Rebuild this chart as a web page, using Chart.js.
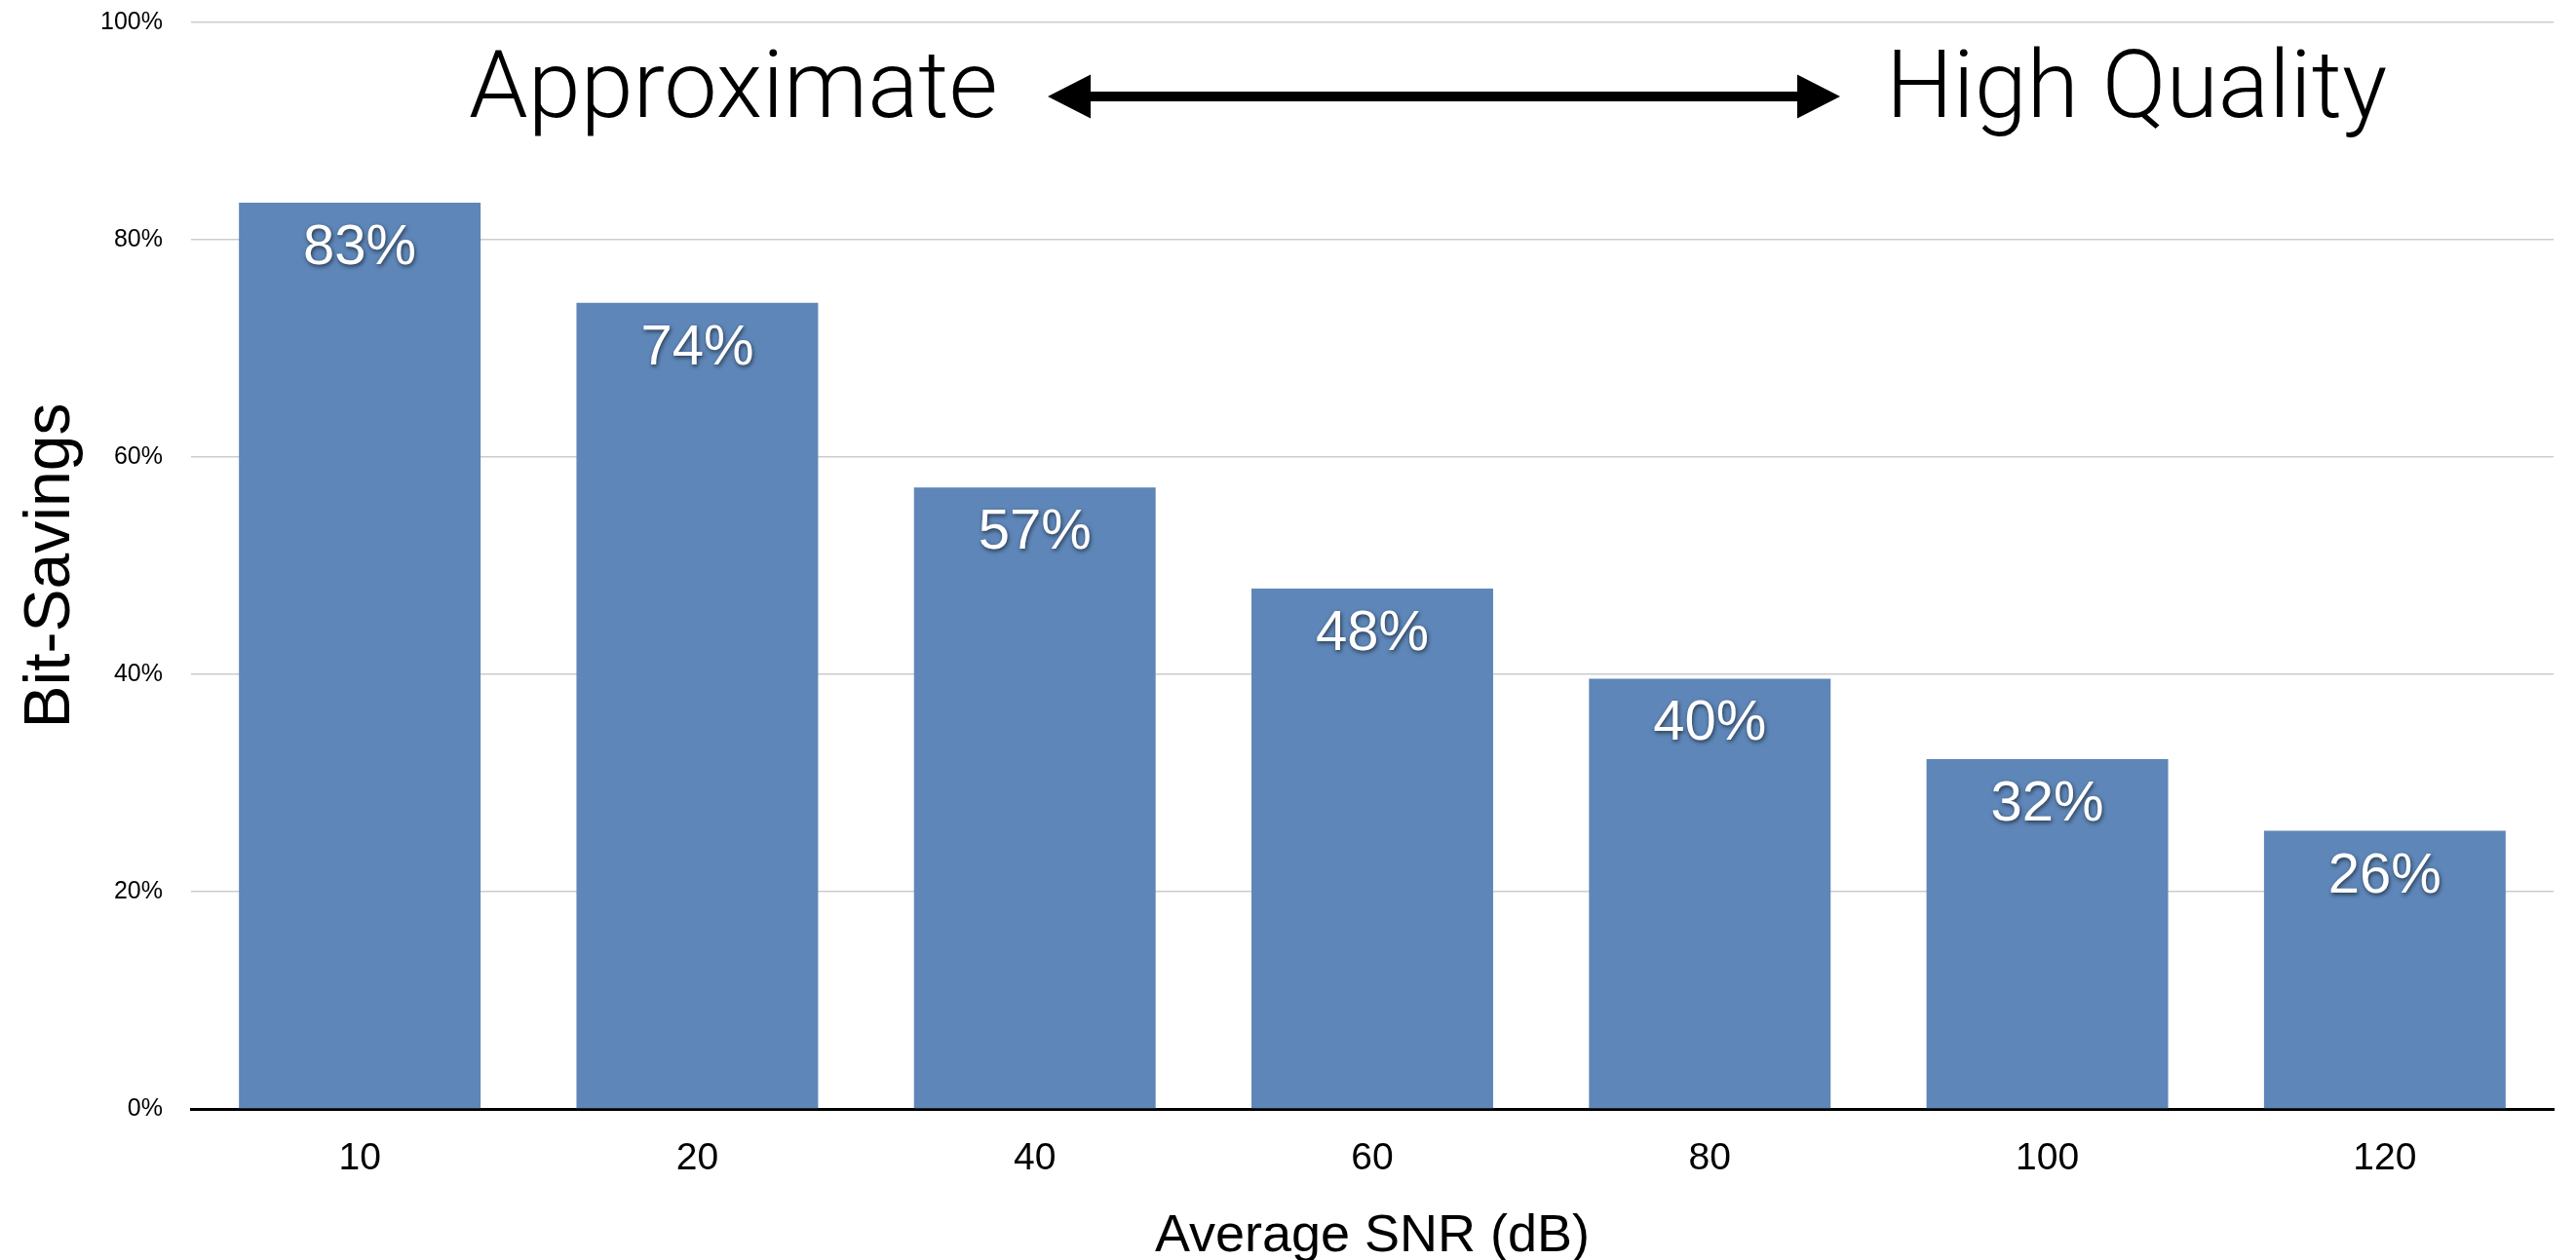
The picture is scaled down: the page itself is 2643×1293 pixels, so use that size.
<!DOCTYPE html>
<html>
<head>
<meta charset="utf-8">
<script src="https://cdn.jsdelivr.net/npm/chart.js@4/dist/chart.umd.min.js"></script>
<style>
  html, body { margin: 0; padding: 0; background: #ffffff; }
  #wrap { width: 2643px; height: 1293px; }
</style>
</head>
<body>
<div id="wrap"><canvas id="c" width="2643" height="1293"></canvas></div>
<script>
// ---- data ----
const categories = ['10', '20', '40', '60', '80', '100', '120'];
const bitSavings = [83.4, 74.2, 57.2, 47.9, 39.6, 32.2, 25.6];
const yTickValues = [0, 20, 40, 60, 80, 100];
const xAxisTitle = 'Average SNR (dB)';
const yAxisTitle = 'Bit-Savings';
const leftNote = 'Approximate';
const rightNote = 'High Quality';

const BAR_COLOR = '#5E86B8';
const BASE_FONT = '"Liberation Sans", Arial, Helvetica, sans-serif';
const LIGHT_FONT = 'Roboto, "Liberation Sans", sans-serif';

const valueLabels = {
  id: 'valueLabels',
  afterDatasetsDraw(chart) {
    const ctx = chart.ctx;
    const meta = chart.getDatasetMeta(0);
    ctx.save();
    ctx.font = '58px ' + BASE_FONT;
    ctx.fillStyle = '#ffffff';
    ctx.textAlign = 'center';
    ctx.textBaseline = 'alphabetic';
    ctx.shadowColor = 'rgba(0,0,0,0.6)';
    ctx.shadowBlur = 4;
    ctx.shadowOffsetX = 1;
    ctx.shadowOffsetY = 2;
    meta.data.forEach((bar, i) => {
      const v = chart.data.datasets[0].data[i];
      ctx.fillText(Math.round(v) + '%', bar.x, bar.y + 63);
    });
    ctx.restore();
  }
};

const rangeNote = {
  id: 'rangeNote',
  afterDraw(chart) {
    const ctx = chart.ctx;
    const baseline = 120;
    ctx.save();
    ctx.fillStyle = '#000000';
    ctx.textBaseline = 'alphabetic';
    ctx.textAlign = 'left';
    ctx.font = '300 96px ' + LIGHT_FONT;
    const w = ctx.measureText(leftNote).width;
    const size = 96 * 543 / w;
    ctx.font = '300 ' + size.toFixed(1) + 'px ' + LIGHT_FONT;
    ctx.fillText(leftNote, 481, baseline);
    ctx.fillText(rightNote, 1935, baseline);

    // double-headed arrow
    const x0 = 1075, x1 = 1888, y = 99;
    const headLen = 44, headHalf = 22.5, shaft = 10;
    ctx.beginPath();
    ctx.moveTo(x0, y);
    ctx.lineTo(x0 + headLen, y - headHalf);
    ctx.lineTo(x0 + headLen, y - shaft / 2);
    ctx.lineTo(x1 - headLen, y - shaft / 2);
    ctx.lineTo(x1 - headLen, y - headHalf);
    ctx.lineTo(x1, y);
    ctx.lineTo(x1 - headLen, y + headHalf);
    ctx.lineTo(x1 - headLen, y + shaft / 2);
    ctx.lineTo(x0 + headLen, y + shaft / 2);
    ctx.lineTo(x0 + headLen, y + headHalf);
    ctx.closePath();
    ctx.fill();
    ctx.restore();
  }
};

new Chart(document.getElementById('c'), {
  type: 'bar',
  data: {
    labels: categories,
    datasets: [{
      data: bitSavings,
      backgroundColor: BAR_COLOR,
      borderWidth: 0,
      barPercentage: 0.716,
      categoryPercentage: 1.0
    }]
  },
  options: {
    responsive: false,
    devicePixelRatio: 1,
    animation: false,
    layout: { padding: { top: 23, right: 23, bottom: 0, left: 0 } },
    plugins: {
      legend: { display: false },
      tooltip: { enabled: false }
    },
    scales: {
      x: {
        grid: { display: false, drawTicks: false },
        border: { display: true, color: '#000000', width: 3 },
        ticks: {
          color: '#000000',
          font: { family: BASE_FONT, size: 39 },
          padding: 28,
          maxRotation: 0
        },
        title: {
          display: true,
          text: xAxisTitle,
          color: '#000000',
          font: { family: BASE_FONT, size: 54, lineHeight: 0.89 },
          padding: { top: 0, bottom: 0 }
        },
        afterFit(scale) { scale.height = 155; }
      },
      y: {
        min: 0,
        max: 100,
        afterBuildTicks(scale) { scale.ticks = yTickValues.map(v => ({ value: v })); },
        grid: { color: '#cccccc', lineWidth: 1.5, drawTicks: false },
        border: { display: false },
        ticks: {
          color: '#000000',
          font: { family: BASE_FONT, size: 25 },
          padding: 29,
          callback: v => v + '%'
        },
        title: {
          display: true,
          text: yAxisTitle,
          color: '#000000',
          font: { family: BASE_FONT, size: 66, lineHeight: 1 },
          padding: { top: 20, bottom: 0 }
        },
        afterFit(scale) {
          scale.width = 196;
          scale.paddingTop = 0;
          scale.paddingBottom = 0;
        }
      }
    }
  },
  plugins: [valueLabels, rangeNote]
});
</script>
</body>
</html>
